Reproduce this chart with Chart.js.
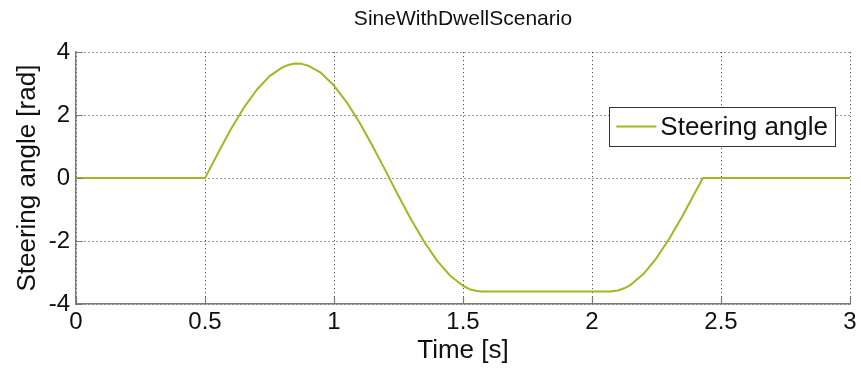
<!DOCTYPE html>
<html>
<head>
<meta charset="utf-8">
<title>SineWithDwellScenario</title>
<script src="https://cdn.jsdelivr.net/npm/chart.js@4/dist/chart.umd.min.js"></script>
<style>
  html, body { margin: 0; padding: 0; background: #ffffff; }
  #wrap { width: 861px; height: 372px; }
</style>
</head>
<body>
<div id="wrap"><canvas id="c" width="861" height="372"></canvas></div>
<script>
// Steering input of the sine-with-dwell manoeuvre
const timeS = [0, 0.5, 0.55, 0.6, 0.65, 0.7, 0.75, 0.8, 0.825, 0.85, 0.875, 0.9, 0.95, 1.0, 1.05, 1.1, 1.15,
  1.2, 1.25, 1.3, 1.35, 1.4, 1.45, 1.5, 1.525, 1.55, 1.57, 2.07, 2.1, 2.125, 2.15, 2.2, 2.25, 2.3, 2.35, 2.4, 2.43, 3.0];
const steeringRad = [0, 0, 0.79, 1.55, 2.23, 2.80, 3.24, 3.52, 3.60, 3.64, 3.63, 3.57, 3.34, 2.94, 2.40, 1.75, 1.01,
  0.23, -0.57, -1.33, -2.03, -2.63, -3.10, -3.42, -3.53, -3.58, -3.60, -3.60, -3.57, -3.50, -3.39, -3.04, -2.54, -1.92, -1.21, -0.45, 0, 0];
const xTicks = [0, 0.5, 1, 1.5, 2, 2.5, 3];
const yTicks = [-4, -2, 0, 2, 4];
const seriesName = 'Steering angle';
const chartTitle = 'SineWithDwellScenario';
const xTitle = 'Time [s]';
const yTitle = 'Steering angle [rad]';

const FONT = "'Liberation Sans', Arial, Helvetica, sans-serif";
const LINE_COLOR = '#9cbb22';
const AXIS_COLOR = '#7a7a7a';

// Short tick marks pointing into the plot on the left and bottom axes
const innerTicks = {
  id: 'innerTicks',
  afterDatasetsDraw(chart) {
    const { ctx, chartArea: a, scales: { x, y } } = chart;
    ctx.save();
    ctx.strokeStyle = AXIS_COLOR;
    ctx.lineWidth = 1.2;
    ctx.beginPath();
    xTicks.forEach(v => {
      const px = Math.round(x.getPixelForValue(v)) + 0.5;
      ctx.moveTo(px, a.bottom);
      ctx.lineTo(px, a.bottom - 7);
    });
    yTicks.forEach(v => {
      const py = Math.round(y.getPixelForValue(v)) + 0.5;
      ctx.moveTo(a.left, py);
      ctx.lineTo(a.left + 7, py);
    });
    ctx.stroke();
    ctx.restore();
  }
};

// Boxed legend placed inside the plot area, upper right
const boxLegend = {
  id: 'boxLegend',
  afterDraw(chart) {
    const { ctx, chartArea: a } = chart;
    const ds = chart.data.datasets[0];
    const right = a.right - 15, top = 107, h = 39;
    ctx.save();
    ctx.font = '26px ' + FONT;
    const tw = ctx.measureText(ds.label).width;
    const w = 7 + 40 + 4 + tw + 7;
    const left = right - w;
    ctx.fillStyle = '#ffffff';
    ctx.fillRect(left, top, w, h);
    ctx.strokeStyle = '#333333';
    ctx.lineWidth = 1;
    ctx.strokeRect(Math.round(left) + 0.5, top + 0.5, Math.round(w), h);
    const cy = top + h / 2;
    ctx.strokeStyle = ds.borderColor;
    ctx.lineWidth = 2;
    ctx.beginPath();
    ctx.moveTo(left + 7, cy);
    ctx.lineTo(left + 47, cy);
    ctx.stroke();
    ctx.fillStyle = '#111111';
    ctx.textBaseline = 'middle';
    ctx.textAlign = 'left';
    ctx.fillText(ds.label, left + 51, cy + 1);
    ctx.restore();
  }
};

new Chart(document.getElementById('c'), {
  type: 'line',
  data: {
    datasets: [{
      label: seriesName,
      data: timeS.map((t, i) => ({ x: t, y: steeringRad[i] })),
      borderColor: LINE_COLOR,
      backgroundColor: LINE_COLOR,
      borderWidth: 2,
      pointRadius: 0,
      tension: 0,
      borderJoinStyle: 'round',
      fill: false
    }]
  },
  options: {
    responsive: false,
    animation: false,
    devicePixelRatio: 1,
    layout: { padding: { left: 0, right: 11, top: 0, bottom: 0 } },
    plugins: {
      legend: { display: false },
      tooltip: { enabled: false },
      title: {
        display: true,
        text: chartTitle,
        fullSize: false,
        color: '#111111',
        font: { family: FONT, size: 21, weight: 'normal' },
        padding: { top: 7, bottom: 20 }
      }
    },
    scales: {
      x: {
        type: 'linear',
        min: 0, max: 3,
        afterBuildTicks: s => { s.ticks = xTicks.map(v => ({ value: v })); },
        afterFit: s => { s.height = 68; },
        ticks: {
          color: '#111111',
          font: { family: FONT, size: 24 },
          padding: 4,
          maxRotation: 0,
          autoSkip: false,
          callback: v => String(v)
        },
        grid: { color: 'rgba(0,0,0,0.8)', lineWidth: 1, drawTicks: false },
        border: { display: true, color: AXIS_COLOR, width: 1.5, dash: [1, 3] },
        title: {
          display: true, text: xTitle, color: '#111111',
          font: { family: FONT, size: 26 },
          padding: { top: 0, bottom: 6 }
        }
      },
      y: {
        type: 'linear',
        min: -4, max: 4,
        afterBuildTicks: s => { s.ticks = yTicks.map(v => ({ value: v })); },
        afterFit: s => { s.width = 76; },
        ticks: {
          color: '#111111',
          font: { family: FONT, size: 24 },
          padding: 6,
          autoSkip: false,
          callback: v => String(v)
        },
        grid: { color: 'rgba(0,0,0,0.8)', lineWidth: 1, drawTicks: false },
        border: { display: true, color: AXIS_COLOR, width: 1.5, dash: [1, 3] },
        title: {
          display: true, text: yTitle, color: '#111111',
          font: { family: FONT, size: 26 },
          padding: { top: 12, bottom: 0 }
        }
      }
    }
  },
  plugins: [innerTicks, boxLegend]
});
</script>
</body>
</html>
